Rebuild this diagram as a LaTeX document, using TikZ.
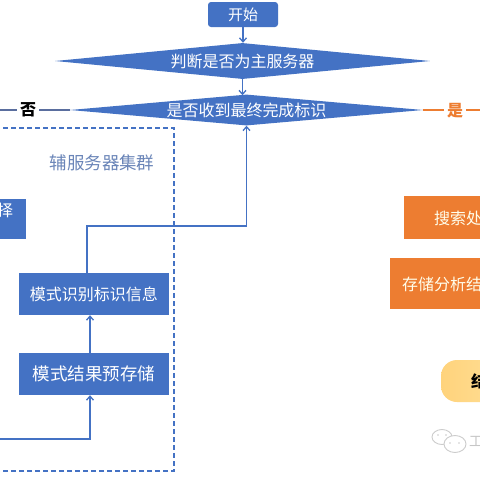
\documentclass[tikz,border=0pt]{standalone}
\usepackage{fontspec}
\setmainfont{Noto Sans CJK SC}
\usetikzlibrary{shapes.geometric,arrows.meta,calc}
\definecolor{mblue}{HTML}{4472C4}
\definecolor{morange}{HTML}{ED7D31}
\definecolor{lblue}{HTML}{6A85B8}
\definecolor{gblue}{HTML}{5A6E9E}
\definecolor{ylA}{HTML}{FFD37C}
\definecolor{ylB}{HTML}{FFE3A0}
\tikzset{
  txt/.style={font=\fontsize{16}{19}\selectfont},
  bluebox/.style={draw=none,fill=mblue,text=white,txt,inner sep=0pt},
  orbox/.style={draw=none,fill=morange,text=white!92!yellow,txt,inner sep=0pt},
  dia/.style={diamond,draw=none,fill=mblue,text=white,txt,inner sep=0pt,aspect=10},
  conn/.style={draw=mblue,line width=1.3pt},
  arr/.style={conn,-{Straight Barb[length=4pt,width=7pt]}},
}
\begin{document}
\begin{tikzpicture}[x=1pt,y=-1pt]
\useasboundingbox (0,0) rectangle (480,480);
\clip (0,0) rectangle (480,480);
\fill[white] (0,0) rectangle (480,480);

% start
\node[bluebox,rounded corners=3pt,minimum width=70pt,minimum height=25pt,font=\fontsize{15}{18}\selectfont] (start) at (243,14.5) {开始};
% diamonds
\node[dia,minimum width=375pt,minimum height=36pt] (d1) at (242.5,61) {判断是否为主服务器};
\node[dia,minimum width=353pt,minimum height=27pt] (d2) at (246.5,110) {是否收到最终完成标识};

\draw[arr] (start.south) -- (start.south |- d1.north);
\draw[arr] (d1.south) -- ([yshift=-1pt]d1.south |- d2.north);

% no / yes branches
\coordinate (nofree) at (0,110);
\coordinate (yesfree) at (480,110);
\draw[draw=gblue,line width=1.1pt] (nofree) -- (d2.west);
\node[fill=white,inner sep=3pt,font=\fontsize{16}{19}\selectfont\bfseries] (no) at (28,110) {否};
\draw[draw=morange,line width=1.3pt] (d2.east) -- (yesfree);
\node[fill=white,inner sep=3pt,text=morange,font=\fontsize{16}{19}\selectfont\bfseries] (yes) at (455,111) {是};

% cluster frame
\draw[draw=mblue,line width=1.2pt,dash pattern=on 5pt off 3pt] (-5,128) -- (174,128) -- (174,471) -- (-5,471);
\node[text=lblue,font=\fontsize{17.5}{20}\selectfont] (clab) at (102,163) {辅服务器集群};

% left partial box
\node[bluebox,minimum width=40pt,minimum height=40pt] (sel) at (6,219) {};
\node[text=white,txt,anchor=west,inner sep=0pt] (seltxt) at (-3,210) {择};

% cluster boxes
\node[bluebox,minimum width=150pt,minimum height=42pt] (b1) at (94,294) {模式识别标识信息};
\node[bluebox,minimum width=150pt,minimum height=42pt,font=\fontsize{17.5}{20}\selectfont] (b2) at (94,374) {模式结果预存储};

\coordinate (in) at (0,439);
\draw[arr] (in) -| ([xshift=-4pt]b2.south);
\draw[arr] ([xshift=-4pt]b2.north) -- ([xshift=-4pt]b1.south);
\coordinate (turn) at (246.5,226);
\draw[arr] ([xshift=-7pt]b1.north) |- (turn) -- (d2.south);

% right partial boxes
\node[orbox,minimum width=90pt,minimum height=43pt] (o1) at (449,217.5) {};
\node[text=white!92!yellow,txt,anchor=west,inner sep=0pt] (o1t) at (434,218) {搜索处};
\node[orbox,minimum width=104pt,minimum height=51pt] (o2) at (442,283.5) {};
\node[text=white!92!yellow,txt,anchor=west,inner sep=0pt] (o2t) at (402,284) {存储分析结};
\node[rounded corners=16pt,left color=ylA,right color=ylB,minimum width=90pt,minimum height=42pt,inner sep=0pt] (end) at (486,381) {};
\node[anchor=west,inner sep=0pt,font=\fontsize{16}{19}\selectfont\bfseries] (endt) at (471,381) {结束};

% watermark
\draw[gray!40,line width=0.9pt] (442,437) ellipse (10pt and 7.5pt);
\draw[gray!40,line width=0.9pt,fill=white] (455,444) ellipse (11pt and 8.5pt);
\fill[gray!40] (450,443) circle (0.9pt) (459,443) circle (0.9pt) (438,435) circle (0.8pt) (446,435) circle (0.8pt);
\node[text=gray!45,font=\fontsize{14}{16}\selectfont,anchor=west,inner sep=0pt] (wm) at (469,441) {工};
\end{tikzpicture}
\end{document}
